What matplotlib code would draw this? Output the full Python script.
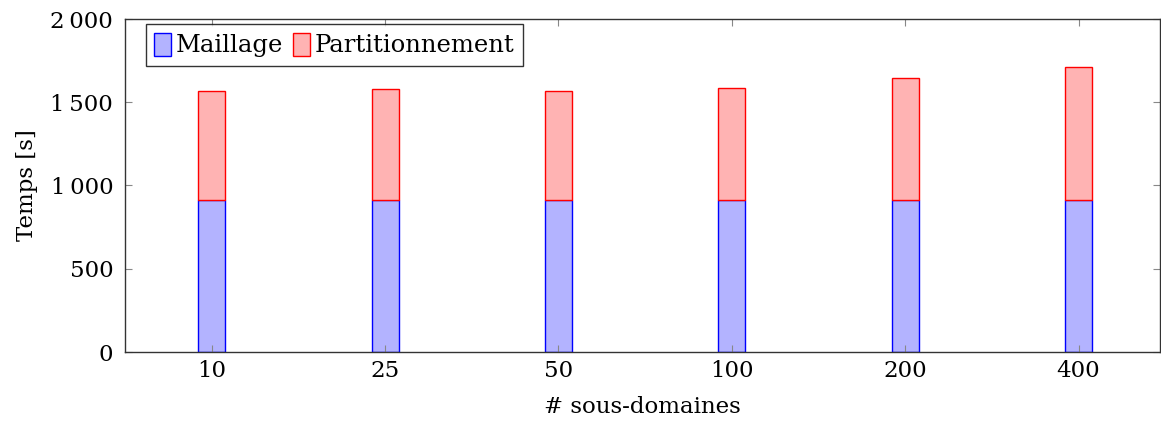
import matplotlib
matplotlib.use("Agg")
import matplotlib.pyplot as plt
from matplotlib.ticker import FuncFormatter
import numpy as np

categories = ["10", "25", "50", "100", "200", "400"]
maillage = [913, 913, 913, 913, 913, 913]
partitionnement = [654, 668, 654, 670, 734, 800]

plt.rcParams['font.family'] = ['DejaVu Serif']
fs = 16.5

fig = plt.figure(figsize=(11.61, 4.23), dpi=100)
ax = fig.add_axes([125/1161, 71/423, 1035/1161, 333/423])

x = np.arange(len(categories))
w = 0.156
ax.bar(x, maillage, w, color='#b3b3ff', edgecolor='#0000ff', linewidth=1.0, label='Maillage')
ax.bar(x, partitionnement, w, bottom=maillage, color='#ffb3b3', edgecolor='#ff0000', linewidth=1.0, label='Partitionnement')

ax.set_xlim(-0.5, 5.47)
ax.set_ylim(0, 2000)
ax.set_xticks(x)
ax.set_xticklabels(categories)
ax.set_yticks([0, 500, 1000, 1500, 2000])
ax.yaxis.set_major_formatter(FuncFormatter(lambda v, p: f"{int(v):,}".replace(",", "\u2009")))
ax.tick_params(direction='in', top=True, right=True, length=5, width=0.8, color='#888888', labelsize=fs)
ax.tick_params(axis='y', pad=8.5)
ax.tick_params(axis='x', pad=6)
for s in ax.spines.values():
    s.set_linewidth(1.0)
    s.set_color('#333333')
ax.set_xlabel('# sous-domaines', fontsize=fs, labelpad=10)
ax.set_ylabel('Temps [s]', fontsize=fs, labelpad=9)

leg = ax.legend(loc='upper left', bbox_to_anchor=(0.02, 0.985), ncol=2, fontsize=17.5, frameon=True, fancybox=False,
                edgecolor='black', handlelength=0.7, handleheight=1.1, handletextpad=0.2, columnspacing=0.4,
                borderpad=0.35, borderaxespad=0.0)
leg.get_frame().set_linewidth(1.0)

fig.savefig('out.png', dpi=100)
